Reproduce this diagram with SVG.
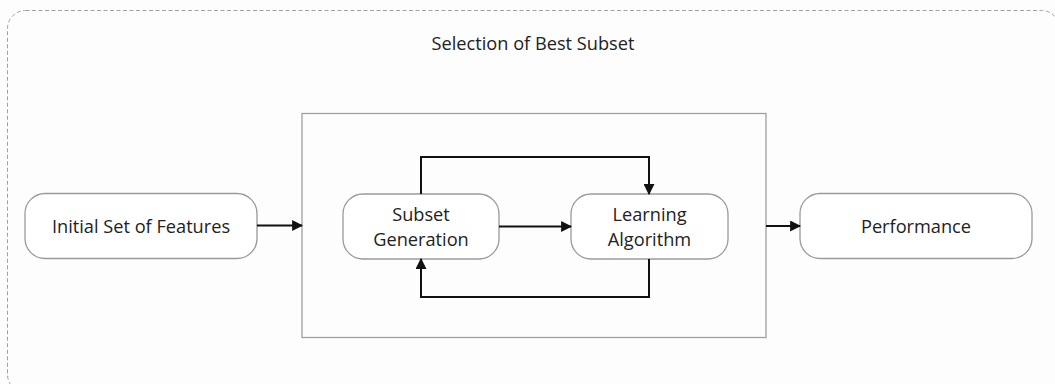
<svg xmlns="http://www.w3.org/2000/svg" width="1055" height="384" viewBox="0 0 1055 384">
<style>
.node{fill:#ffffff;stroke:#9a9a9a;stroke-width:1.3}
.lbl{font-family:"Open Sans","Liberation Sans",sans-serif;font-size:18.2px;fill:#222;text-anchor:middle}
.conn{fill:none;stroke:#111;stroke-width:2}
</style>
<defs>
<marker id="ah" viewBox="0 0 10 10" refX="9" refY="5" markerWidth="11" markerHeight="11" markerUnits="userSpaceOnUse" orient="auto">
<path d="M0,0 L10,5 L0,10 z" fill="#111"/>
</marker>
</defs>
<rect width="1055" height="384" fill="#fdfdfd"/>
<g id="outer">
<rect x="7.5" y="10.5" width="1052" height="382" rx="18" fill="#fdfdfd" stroke="#a0a0a0" stroke-width="1" stroke-dasharray="4,2.5"/>
<text class="lbl" x="533" y="50">Selection of Best Subset</text>
</g>
<g id="inner">
<rect x="302" y="113.5" width="464" height="224" fill="#fdfdfd" stroke="#a0a0a0" stroke-width="1.3"/>
</g>
<g id="initial">
<rect class="node" x="25" y="193.5" width="232" height="65" rx="20"/>
<text class="lbl" x="141" y="232.5">Initial Set of Features</text>
</g>
<g id="subset">
<rect class="node" x="343" y="194" width="156" height="65" rx="20"/>
<text class="lbl" x="421" y="221">Subset</text>
<text class="lbl" x="421" y="245.5">Generation</text>
</g>
<g id="learning">
<rect class="node" x="571" y="194" width="157" height="65" rx="20"/>
<text class="lbl" x="649.5" y="221">Learning</text>
<text class="lbl" x="649.5" y="245.5">Algorithm</text>
</g>
<g id="performance">
<rect class="node" x="800" y="193.5" width="232" height="65" rx="20"/>
<text class="lbl" x="916" y="232.5">Performance</text>
</g>
<g id="connectors">
<path class="conn" d="M257,225.5 H302" marker-end="url(#ah)"/>
<path class="conn" d="M499,226.5 H571" marker-end="url(#ah)"/>
<path class="conn" d="M421,194 V157 H649 V194" marker-end="url(#ah)"/>
<path class="conn" d="M649,259 V297 H421 V259" marker-end="url(#ah)"/>
<path class="conn" d="M766,226 H800" marker-end="url(#ah)"/>
</g>
</svg>
